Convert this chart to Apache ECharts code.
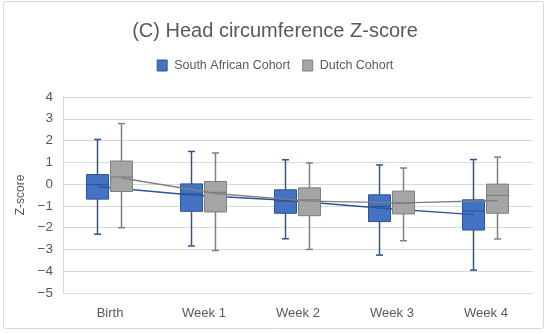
<!DOCTYPE html>
<html>
<head>
<meta charset="utf-8">
<script src="https://cdn.jsdelivr.net/npm/echarts@6/dist/echarts.min.js"></script>
<style>html,body{margin:0;padding:0;background:#fff}#c{width:550px;height:334px}</style>
</head>
<body>
<div id="c"></div>
<script>
const categories = ['Birth', 'Week 1', 'Week 2', 'Week 3', 'Week 4'];
const yTicks = [-5, -4, -3, -2, -1, 0, 1, 2, 3, 4];

// South African Cohort
const saMin    = [-2.30, -2.84, -2.51, -3.26, -3.95];
const saQ1     = [-0.69, -1.25, -1.34, -1.72, -2.11];
const saMedian = [-0.02, -0.44, -0.78, -1.03, -1.23];
const saQ3     = [ 0.44,  0.01, -0.26, -0.49, -0.72];
const saMax    = [ 2.05,  1.50,  1.12,  0.88,  1.13];
const saMean   = [-0.11, -0.50, -0.74, -1.10, -1.40];

// Dutch Cohort
const nlMin    = [-2.00, -3.05, -3.00, -2.60, -2.52];
const nlQ1     = [-0.34, -1.28, -1.45, -1.37, -1.34];
const nlMedian = [ 0.33, -0.38, -0.72, -0.88, -0.52];
const nlQ3     = [ 1.06,  0.12, -0.17, -0.32,  0.00];
const nlMax    = [ 2.78,  1.43,  0.97,  0.74,  1.24];
const nlMean   = [ 0.28, -0.43, -0.78, -0.86, -0.75];

const FONT = 'Liberation Sans';
const TXT = '#595959';

function boxData(mn, q1, md, q3, mx) {
  return categories.map((c, i) => [i, mn[i], q1[i], md[i], q3[i], mx[i]]);
}
function meanData(m) {
  const out = [];
  for (let i = 0; i < m.length - 1; i++) out.push([i, m[i], m[i + 1]]);
  return out;
}

function boxRenderer(offset, fill, stroke, whisker) {
  return function (params, api) {
    const i = api.value(0);
    const cx = api.coord([i, 0])[0] + offset;
    const yMin = api.coord([i, api.value(1)])[1];
    const yQ1 = api.coord([i, api.value(2)])[1];
    const yMd = api.coord([i, api.value(3)])[1];
    const yQ3 = api.coord([i, api.value(4)])[1];
    const yMax = api.coord([i, api.value(5)])[1];
    const w = 22, cap = 3.5;
    const ls = { stroke: whisker, lineWidth: 1.5 };
    return {
      type: 'group',
      children: [
        { type: 'line', shape: { x1: cx, y1: yMax, x2: cx, y2: yMin }, style: ls },
        { type: 'line', shape: { x1: cx - cap, y1: yMax, x2: cx + cap, y2: yMax }, style: ls },
        { type: 'line', shape: { x1: cx - cap, y1: yMin, x2: cx + cap, y2: yMin }, style: ls },
        { type: 'rect', shape: { x: cx - w / 2, y: yQ3, width: w, height: yQ1 - yQ3 },
          style: { fill: fill, stroke: stroke, lineWidth: 1 } },
        { type: 'line', shape: { x1: cx - w / 2, y1: yMd, x2: cx + w / 2, y2: yMd },
          style: { stroke: stroke, lineWidth: 1.2 } }
      ]
    };
  };
}
function meanRenderer(offset, color) {
  return function (params, api) {
    const i = api.value(0);
    const p1 = api.coord([i, api.value(1)]);
    const p2 = api.coord([i + 1, api.value(2)]);
    return {
      type: 'line',
      shape: { x1: p1[0] + offset, y1: p1[1], x2: p2[0] + offset, y2: p2[1] },
      style: { stroke: color, lineWidth: 1.4 }
    };
  };
}

const OFF_SA = -12.5, OFF_NL = 11.5;
const chart = echarts.init(document.getElementById('c'), null, { renderer: 'canvas' });
chart.setOption({
  animation: false,
  backgroundColor: '#fff',
  textStyle: { fontFamily: FONT },
  graphic: [{
    type: 'rect', z: -10, silent: true,
    shape: { x: 3.5, y: 1.5, width: 540, height: 327, r: 2 },
    style: { fill: 'none', stroke: '#D9D9D9', lineWidth: 1 }
  }],
  title: {
    text: '(C) Head circumference Z-score',
    left: 'center', top: 16,
    textStyle: { fontFamily: FONT, fontSize: 20, fontWeight: 'normal', color: TXT }
  },
  legend: {
    top: 54, left: 'center',
    itemWidth: 10, itemHeight: 11, itemGap: 12,
    textStyle: { fontFamily: FONT, fontSize: 12.5, color: TXT, padding: [0, 0, 0, 2] },
    data: [
      { name: 'South African Cohort', icon: 'rect', itemStyle: { color: '#4472C4', borderColor: '#2F5597', borderWidth: 1 } },
      { name: 'Dutch Cohort', icon: 'rect', itemStyle: { color: '#A5A5A5', borderColor: '#7F7F7F', borderWidth: 1 } }
    ]
  },
  grid: { left: 63, right: 17, top: 97, bottom: 41 },
  xAxis: {
    type: 'category', data: categories, boundaryGap: true,
    axisLine: { show: false }, axisTick: { show: false },
    axisLabel: { color: TXT, fontSize: 13, fontFamily: FONT, margin: 14 },
    splitLine: { show: false }
  },
  yAxis: {
    type: 'value', min: yTicks[0], max: yTicks[yTicks.length - 1], interval: 1,
    name: 'Z-score', nameLocation: 'middle', nameGap: 35, nameRotate: 90,
    nameTextStyle: { color: TXT, fontSize: 12, fontFamily: FONT },
    axisLine: { show: true, lineStyle: { color: '#D9D9D9' } },
    axisTick: { show: false },
    axisLabel: { color: TXT, fontSize: 13.5, fontFamily: FONT, margin: 10,
      formatter: v => (v < 0 ? '\u2212' + Math.abs(v) : String(v)) },
    splitLine: { lineStyle: { color: '#D9D9D9', width: 1 } }
  },
  series: [
    { name: 'South African Cohort', type: 'custom', renderItem: boxRenderer(OFF_SA, '#4472C4', '#2F5597', '#2F5597'),
      itemStyle: { color: '#4472C4', borderColor: '#2F5597' },
      encode: { x: 0, y: [1, 2, 3, 4, 5] }, data: boxData(saMin, saQ1, saMedian, saQ3, saMax) },
    { name: 'SA mean', type: 'custom', renderItem: meanRenderer(OFF_SA, '#2F5597'),
      encode: { x: 0, y: [1, 2] }, data: meanData(saMean) },
    { name: 'Dutch Cohort', type: 'custom', renderItem: boxRenderer(OFF_NL, '#A5A5A5', '#7F7F7F', '#808080'),
      itemStyle: { color: '#A5A5A5', borderColor: '#7F7F7F' },
      encode: { x: 0, y: [1, 2, 3, 4, 5] }, data: boxData(nlMin, nlQ1, nlMedian, nlQ3, nlMax) },
    { name: 'NL mean', type: 'custom', renderItem: meanRenderer(OFF_NL, '#7F7F7F'),
      encode: { x: 0, y: [1, 2] }, data: meanData(nlMean) }
  ]
});
</script>
</body>
</html>
